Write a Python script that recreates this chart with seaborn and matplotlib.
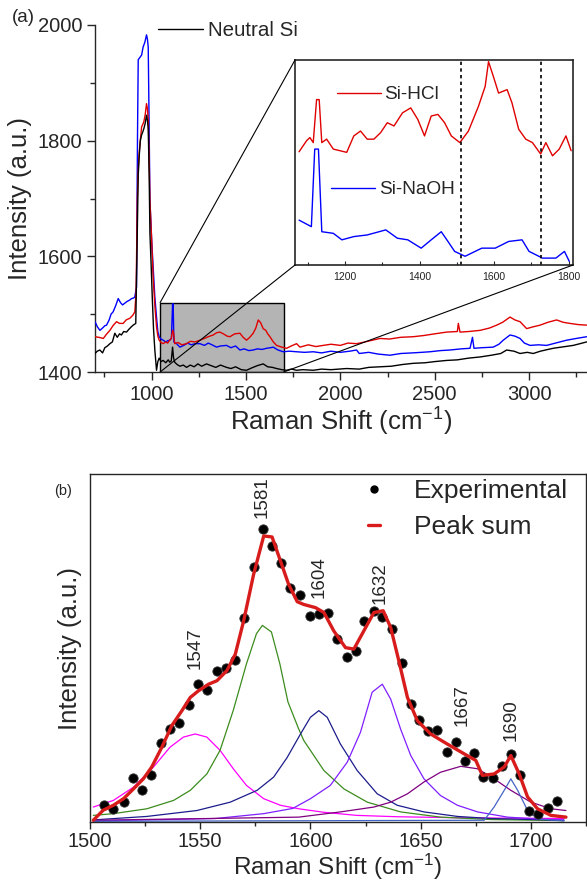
import numpy as np
import pandas as pd
import seaborn as sns
import matplotlib.pyplot as plt
from matplotlib.patches import Rectangle, ConnectionPatch
from matplotlib.ticker import MultipleLocator, NullLocator
from matplotlib.lines import Line2D

sns.set_style('ticks')
plt.rcParams['font.family'] = ['Liberation Sans', 'DejaVu Sans']
plt.rcParams['mathtext.default'] = 'regular'

# ---- panel (a): full spectra ----
neutral_x = [700, 712, 726, 740, 752, 766, 779, 792, 805, 818, 830, 840, 852, 867, 880, 892, 902, 916, 924, 929,
             934, 940, 947, 953, 959, 966, 973, 978, 982, 987, 991, 998, 1004, 1010, 1017, 1026, 1033, 1040, 1050,
             1061, 1075, 1088, 1096, 1104, 1111, 1116, 1122, 1135, 1150, 1168, 1185, 1205, 1225, 1245, 1265, 1291,
             1315, 1340, 1365, 1397, 1420, 1445, 1475, 1503, 1530, 1560, 1591, 1615, 1640, 1662, 1690, 1715, 1740,
             1768, 1800, 1857, 1900, 1950, 2033, 2100, 2150, 2210, 2270, 2330, 2386, 2450, 2500, 2563, 2620, 2680,
             2740, 2800, 2850, 2881, 2920, 2952, 2990, 3022, 3060, 3100, 3128, 3170, 3234, 3270, 3305]
neutral_y = [1432, 1436, 1438, 1433, 1442, 1445, 1449, 1452, 1467, 1460, 1466, 1464, 1470, 1469, 1474, 1478, 1481,
             1484, 1640, 1740, 1772, 1800, 1810, 1815, 1821, 1830, 1844, 1835, 1821, 1740, 1640, 1580, 1524, 1475,
             1438, 1403, 1418, 1424, 1418, 1420, 1416, 1421, 1417, 1419, 1443, 1425, 1417, 1413, 1410, 1412, 1408,
             1412, 1409, 1414, 1410, 1414, 1411, 1408, 1412, 1408, 1406, 1409, 1404, 1403, 1407, 1411, 1414, 1409,
             1408, 1406, 1404, 1403, 1405, 1403, 1404, 1403, 1405, 1404, 1406, 1405, 1408, 1409, 1410, 1413, 1415,
             1416, 1418, 1420, 1421, 1424, 1426, 1429, 1432, 1438, 1436, 1432, 1434, 1432, 1436, 1439, 1441, 1443,
             1446, 1449, 1452]

naoh_x = [700, 713, 726, 740, 752, 761, 775, 785, 796, 810, 823, 835, 846, 858, 870, 882, 894, 905, 911, 920, 925,
          929, 938, 947, 955, 964, 973, 978, 982, 986, 991, 1000, 1008, 1017, 1026, 1033, 1040, 1050, 1061, 1075,
          1085, 1096, 1105, 1111, 1114, 1118, 1132, 1150, 1170, 1190, 1210, 1230, 1256, 1280, 1300, 1320, 1344,
          1365, 1397, 1420, 1445, 1468, 1490, 1515, 1538, 1560, 1585, 1609, 1630, 1644, 1670, 1697, 1730, 1768,
          1810, 1857, 1900, 1950, 2000, 2050, 2086, 2100, 2150, 2200, 2263, 2320, 2380, 2430, 2475, 2530, 2580,
          2640, 2687, 2700, 2708, 2750, 2810, 2840, 2863, 2899, 2925, 2952, 2975, 3005, 3050, 3093, 3140, 3199,
          3250, 3305]
naoh_y = [1487, 1478, 1472, 1476, 1480, 1481, 1490, 1500, 1504, 1515, 1527, 1520, 1516, 1519, 1522, 1524, 1527,
          1528, 1530, 1547, 1800, 1940, 1944, 1948, 1962, 1970, 1983, 1975, 1962, 1850, 1697, 1630, 1582, 1530,
          1495, 1470, 1461, 1457, 1455, 1452, 1454, 1455, 1458, 1518, 1518, 1452, 1449, 1443, 1446, 1450, 1447,
          1449, 1449, 1446, 1450, 1447, 1443, 1445, 1446, 1442, 1445, 1438, 1440, 1437, 1438, 1440, 1439, 1441,
          1442, 1443, 1438, 1435, 1436, 1435, 1434, 1435, 1433, 1436, 1434, 1436, 1438, 1432, 1434, 1431, 1429,
          1432, 1433, 1434, 1435, 1437, 1438, 1440, 1441, 1460, 1441, 1442, 1443, 1448, 1455, 1464, 1462, 1458,
          1450, 1446, 1447, 1446, 1450, 1455, 1458, 1461]

hcl_x = [700, 720, 744, 760, 779, 795, 814, 830, 849, 865, 885, 900, 911, 918, 924, 929, 934, 940, 947, 953, 959,
         966, 973, 978, 982, 987, 991, 1000, 1008, 1017, 1026, 1033, 1040, 1050, 1061, 1075, 1085, 1096, 1104,
         1111, 1116, 1122, 1140, 1160, 1185, 1205, 1230, 1256, 1280, 1300, 1326, 1345, 1362, 1380, 1400, 1415,
         1440, 1468, 1485, 1503, 1520, 1538, 1552, 1565, 1578, 1591, 1605, 1615, 1627, 1645, 1662, 1690, 1715,
         1740, 1768, 1786, 1830, 1870, 1909, 1950, 2000, 2040, 2086, 2130, 2170, 2210, 2260, 2320, 2386, 2440,
         2500, 2563, 2620, 2625, 2634, 2680, 2740, 2790, 2828, 2860, 2899, 2925, 2952, 2987, 3020, 3058, 3100,
         3146, 3180, 3217, 3260, 3305]
hcl_y = [1461, 1460, 1458, 1465, 1472, 1480, 1487, 1484, 1484, 1490, 1493, 1498, 1504, 1540, 1697, 1750, 1778,
         1800, 1824, 1828, 1833, 1845, 1864, 1855, 1836, 1770, 1697, 1630, 1565, 1515, 1478, 1462, 1455, 1451,
         1449, 1452, 1450, 1455, 1458, 1472, 1468, 1449, 1451, 1447, 1449, 1453, 1452, 1455, 1458, 1461, 1464,
         1468, 1469, 1466, 1462, 1461, 1466, 1467, 1460, 1455, 1460, 1467, 1476, 1490, 1485, 1475, 1472, 1466,
         1461, 1452, 1446, 1443, 1441, 1445, 1449, 1443, 1447, 1444, 1446, 1448, 1446, 1450, 1449, 1452, 1455,
         1458, 1457, 1460, 1461, 1463, 1466, 1469, 1470, 1484, 1469, 1470, 1472, 1476, 1481, 1486, 1495, 1490,
         1487, 1475, 1478, 1481, 1486, 1490, 1486, 1484, 1482, 1481]

# inset (zoomed 1050-1800 region, arbitrary intensity)
in_hcl_x = [1076, 1096, 1105, 1114, 1123, 1130, 1137, 1150, 1168, 1204, 1223, 1241, 1259, 1277, 1295, 1313, 1331,
            1354, 1376, 1395, 1413, 1431, 1449, 1467, 1485, 1508, 1531, 1558, 1576, 1585, 1598, 1612, 1635, 1648,
            1666, 1685, 1703, 1725, 1739, 1757, 1775, 1793, 1807]
in_hcl_y = [54.8, 60.2, 61.8, 59.3, 80.5, 80.5, 59.3, 61.0, 56.1, 54.5, 62.6, 65.0, 61.0, 61.0, 64.2, 69.1, 67.5,
            74.0, 76.4, 70.7, 62.6, 72.4, 73.2, 69.1, 62.6, 59.3, 65.0, 77.2, 87.0, 99.2, 91.9, 83.7, 85.4, 78.9,
            65.9, 61.0, 59.3, 53.7, 59.3, 52.8, 56.1, 62.6, 55.3]
in_naoh_x = [1076, 1109, 1118, 1128, 1137, 1168, 1191, 1223, 1259, 1309, 1340, 1368, 1404, 1431, 1458, 1476, 1494,
             1522, 1567, 1603, 1639, 1675, 1694, 1730, 1766, 1789, 1802]
in_naoh_y = [21.1, 17.9, 56.1, 56.1, 15.4, 14.6, 11.4, 13.0, 13.8, 16.3, 12.2, 11.4, 7.3, 11.4, 15.4, 10.6, 5.7,
             3.3, 7.3, 7.3, 10.6, 11.4, 5.7, 2.4, 2.4, 5.7, 0.8]
fit_window = [1510, 1725]

# ---- panel (b): peak fit ----
exp_x = [1506.4, 1510.6, 1515.2, 1519.4, 1523.5, 1527.6, 1532.1, 1536.1, 1540.5, 1544.7, 1548.8, 1553.0, 1557.6,
         1561.7, 1565.9, 1570.0, 1574.2, 1578.5, 1582.6, 1586.8, 1590.9, 1595.3, 1599.7, 1603.8, 1607.9, 1612.1,
         1616.4, 1620.5, 1624.5, 1628.8, 1632.6, 1637.1, 1641.7, 1645.5, 1649.2, 1653.5, 1657.6, 1662.1, 1666.2,
         1670.1, 1674.2, 1678.5, 1682.6, 1686.8, 1690.9, 1695.1, 1699.2, 1703.3, 1707.6, 1711.8]
exp_y = [4.8, 3.8, 5.7, 12.7, 9.1, 13.4, 22.6, 26.7, 28.4, 33.6, 39.6, 37.9, 43.5, 44.2, 46.5, 58.7, 73.3, 84.3,
         79.3, 74.5, 67.3, 65.3, 59.2, 59.7, 60.2, 52.5, 47.3, 49.0, 57.8, 60.7, 58.9, 55.4, 45.8, 33.9, 29.3, 26.1,
         26.3, 20.1, 22.9, 17.5, 19.8, 12.9, 12.7, 16.2, 19.6, 13.6, 3.2, 2.4, 4.0, 6.0]

sum_x = [1501.5, 1506, 1510.6, 1515.2, 1519.7, 1524.2, 1528, 1532.6, 1537.1, 1541.7, 1545.5, 1549.2, 1553.8,
         1557.6, 1562.1, 1565.9, 1569.7, 1574.2, 1578.8, 1582.6, 1586.4, 1590.1, 1594, 1597, 1602.3, 1606.1,
         1610.6, 1615.9, 1619.7, 1624.2, 1628.8, 1633.0, 1636.4, 1640.1, 1644, 1648.5, 1654.5, 1662.1, 1669.7,
         1675, 1678, 1683.3, 1687.9, 1690.9, 1694.7, 1698.5, 1703, 1709.1, 1715.9]
sum_y = [0.5, 3.4, 4.8, 6.7, 9.5, 12.4, 15.8, 21.5, 27.7, 32.0, 35.8, 37.7, 39.6, 40.6, 43.5, 48.2, 57.8, 71.1,
         82.2, 81.9, 75.0, 68.3, 63.3, 62.5, 61.6, 60.2, 54.9, 50.1, 49.7, 54.9, 60.2, 60.7, 55.9, 46.3, 35.8, 29.1,
         25.3, 22.4, 19.6, 17.7, 13.4, 13.8, 15.8, 19.1, 13.8, 7.2, 3.8, 1.9, 1.4]

peak_names = ['1547', '1581', '1604', '1632', '1667', '1690']
peak_colors = ['#ff00ff', '#3c8c1e', '#1c1c8c', '#7f1fff', '#800080', '#4264c4']
peak_x = [
    [1501.5, 1510.6, 1519.7, 1528.8, 1536.3, 1542.4, 1547.7, 1553, 1559, 1565, 1571, 1578.8, 1586.4, 1594.7,
     1606, 1621, 1640, 1670, 1715],
    [1501.5, 1510.6, 1525.8, 1537.9, 1545.5, 1553, 1559, 1565, 1571, 1575.5, 1578.2, 1582.3, 1586.1, 1589.8,
     1594.5, 1597, 1606.1, 1615.2, 1625.8, 1640.9, 1659, 1682, 1715],
    [1501.5, 1525.8, 1548.5, 1563.6, 1575.8, 1583.3, 1589.4, 1595.5, 1600, 1603.8, 1607.6, 1613.6, 1621.2,
     1630.3, 1639.4, 1651.5, 1666.7, 1681.8, 1715],
    [1501.5, 1557, 1578.8, 1592, 1600, 1609, 1616.7, 1622.7, 1628, 1632.6, 1636.4, 1640.9, 1645.5, 1651.5, 1659,
     1666.7, 1675.8, 1689.4, 1704.5, 1715],
    [1501.5, 1594.7, 1613.6, 1628.8, 1636.4, 1644, 1651.5, 1659, 1668.2, 1675.8, 1683.3, 1690.9, 1700, 1709.1,
     1715.9],
    [1501.5, 1678.8, 1683.3, 1687.9, 1690.9, 1694, 1698.5, 1703, 1715],
]
peak_y = [
    [4.3, 6.2, 10.0, 15.8, 21.5, 24.4, 25.3, 24.4, 20.6, 15.3, 10.5, 6.7, 4.8, 3.8, 2.8, 1.9, 1.5, 1.2, 1.0],
    [1.9, 2.4, 3.8, 6.2, 9.1, 13.8, 20.6, 32.1, 45.5, 54.1, 56.5, 54.6, 45.5, 34.5, 27.0, 23.4, 14.8, 9.5, 5.7,
     2.9, 1.4, 0.7, 0.4],
    [0.6, 1.6, 3.3, 5.7, 9.1, 12.9, 18.5, 25.3, 30.1, 32.0, 30.1, 22.4, 14.8, 8.1, 4.8, 2.9, 1.6, 1.0, 0.5],
    [0.3, 1.0, 2.4, 3.9, 6.7, 10.5, 17.2, 25.8, 37.3, 39.6, 35.3, 26.7, 19.1, 12.4, 7.6, 4.8, 2.9, 1.4, 0.8, 0.6],
    [0.5, 1.4, 2.9, 4.3, 5.7, 8.1, 11.5, 14.3, 16.0, 15.3, 12.4, 9.1, 5.7, 3.8, 3.3],
    [0.2, 0.5, 4.3, 9.1, 12.4, 9.1, 3.3, 0.9, 0.3],
]
label_x = [1547.7, 1578, 1603.8, 1631.8, 1669, 1691.2]
label_y = [43.9, 87.4, 64.5, 62.5, 27.7, 23.4]

W, H = 587, 883
fig = plt.figure(figsize=(W / 100, H / 100), dpi=100)

def box(l, t, r, b):
    return [l / W, 1 - b / H, (r - l) / W, (b - t) / H]

# ---------------- panel (a)
ax = fig.add_axes(box(95, 25, 587.6, 372))
ax.add_patch(Rectangle((1045, 1400), 655, 120, facecolor='#b4b4b4', edgecolor='black', lw=1.0, zorder=1))
for xs, ys, c in [(naoh_x, naoh_y, '#0000ff'), (hcl_x, hcl_y, '#e00000'), (neutral_x, neutral_y, 'black')]:
    sns.lineplot(x=xs, y=ys, ax=ax, color=c, lw=1.0, estimator=None, sort=False, zorder=3)
ax.set_xlim(700, 3310)
ax.set_ylim(1400, 2000)
ax.xaxis.set_major_locator(MultipleLocator(500))
ax.xaxis.set_minor_locator(MultipleLocator(250))
ax.yaxis.set_major_locator(MultipleLocator(200))
ax.yaxis.set_minor_locator(MultipleLocator(100))
ax.tick_params(which='major', direction='out', length=6, width=1, labelsize=14.5, pad=3)
ax.tick_params(which='minor', direction='out', length=3.5, width=1)
ax.spines['top'].set_visible(False)
ax.spines['right'].set_visible(False)
for s in ax.spines.values():
    s.set_linewidth(1.0)
ax.set_xlabel('Raman Shift (cm$^{-1}$)', fontsize=18.5, labelpad=2)
ax.set_ylabel('Intensity (a.u.)', fontsize=18.5, labelpad=4)
fig.text(12 / W, 1 - 17 / H, '(a)', fontsize=13.5, va='center', ha='left')

ax.legend(handles=[Line2D([], [], color='black', lw=1.0)], labels=['Neutral Si'], loc='upper left',
          bbox_to_anchor=(158 / W, 1 - 21 / H), bbox_transform=fig.transFigure, frameon=False,
          fontsize=14.8, handlelength=2.2, handletextpad=0.25, borderpad=0, borderaxespad=0)

# inset
ins = fig.add_axes(box(295, 60, 573, 265))
sns.lineplot(x=in_hcl_x, y=in_hcl_y, ax=ins, color='#e00000', lw=1.0, estimator=None, sort=False)
sns.lineplot(x=in_naoh_x, y=in_naoh_y, ax=ins, color='#0000ff', lw=1.0, estimator=None, sort=False)
for xv in fit_window:
    ins.axvline(xv, color='black', ls=(0, (2, 2)), lw=1.2)
ins.set_xlim(1065, 1812)
ins.set_ylim(-1, 100)
ins.xaxis.set_major_locator(MultipleLocator(200))
ins.xaxis.set_minor_locator(MultipleLocator(100))
ins.yaxis.set_major_locator(NullLocator())
ins.tick_params(which='major', direction='in', length=3, width=0.8, labelsize=7.5, pad=5, labelcolor='#222222')
ins.tick_params(which='minor', direction='in', length=2, width=0.8)
for s in ins.spines.values():
    s.set_linewidth(1.2)
    s.set_visible(True)
l1 = ins.legend(handles=[Line2D([], [], color='#e00000', lw=1.0)], labels=['Si-HCl'], loc='upper left',
                bbox_to_anchor=(337 / W, 1 - 86 / H), bbox_transform=fig.transFigure, frameon=False,
                fontsize=13.7, handlelength=2.3, handletextpad=0.15, borderpad=0, borderaxespad=0)
ins.add_artist(l1)
ins.legend(handles=[Line2D([], [], color='#0000ff', lw=1.0)], labels=['Si-NaOH'], loc='upper left',
           bbox_to_anchor=(331 / W, 1 - 181 / H), bbox_transform=fig.transFigure, frameon=False,
           fontsize=13.7, handlelength=2.3, handletextpad=0.25, borderpad=0, borderaxespad=0)

# zoom connectors
for (xa, ya), (xb, yb) in [((1045, 1520), (0, 1)), ((1045, 1400), (0, 0)), ((1700, 1400), (1, 0))]:
    con = ConnectionPatch(xyA=(xa, ya), coordsA=ax.transData, xyB=(xb, yb), coordsB=ins.transAxes,
                          color='black', lw=0.8, zorder=5)
    fig.add_artist(con)

# ---------------- panel (b)
bx = fig.add_axes(box(90, 474, 586, 822))
for xs, ys, c in zip(peak_x, peak_y, peak_colors):
    sns.lineplot(x=xs, y=ys, ax=bx, color=c, lw=0.9, estimator=None, sort=False, zorder=2)
sns.lineplot(x=sum_x, y=sum_y, ax=bx, color='#d81c1c', lw=2.4, estimator=None, sort=False, zorder=4)
sns.scatterplot(x=exp_x, y=exp_y, ax=bx, color='black', s=45, edgecolor='#333333', linewidth=0.6, zorder=3)
for name, lx, ly in zip(peak_names, label_x, label_y):
    bx.text(lx, ly, name, rotation=90, ha='center', va='bottom', fontsize=13.5)
bx.set_xlim(1500, 1725)
bx.set_ylim(0, 100)
bx.xaxis.set_major_locator(MultipleLocator(50))
bx.xaxis.set_minor_locator(MultipleLocator(25))
bx.yaxis.set_major_locator(NullLocator())
bx.tick_params(which='major', direction='out', length=5, width=1, labelsize=14.5, pad=2.5)
bx.tick_params(which='minor', direction='out', length=3, width=1)
for s in bx.spines.values():
    s.set_linewidth(1.0)
    s.set_visible(True)
bx.set_xlabel('Raman Shift (cm$^{-1}$)', fontsize=17.5, labelpad=0.5)
bx.set_ylabel('Intensity (a.u.)', fontsize=18.5, labelpad=6)
fig.text(54 / W, 1 - 491 / H, '(b)', fontsize=10.5, va='center', ha='left')
bx.legend(handles=[Line2D([], [], ls='none', marker='o', color='black', markersize=5),
                   Line2D([], [], color='#d81c1c', lw=2.4)],
          labels=['Experimental', 'Peak sum'], loc='upper left',
          bbox_to_anchor=(368 / W, 1 - 479 / H), bbox_transform=fig.transFigure, frameon=False,
          fontsize=19, handlelength=0.45, handletextpad=1.3, labelspacing=0.45, borderpad=0, borderaxespad=0)

fig.savefig('out.png', dpi=100)
